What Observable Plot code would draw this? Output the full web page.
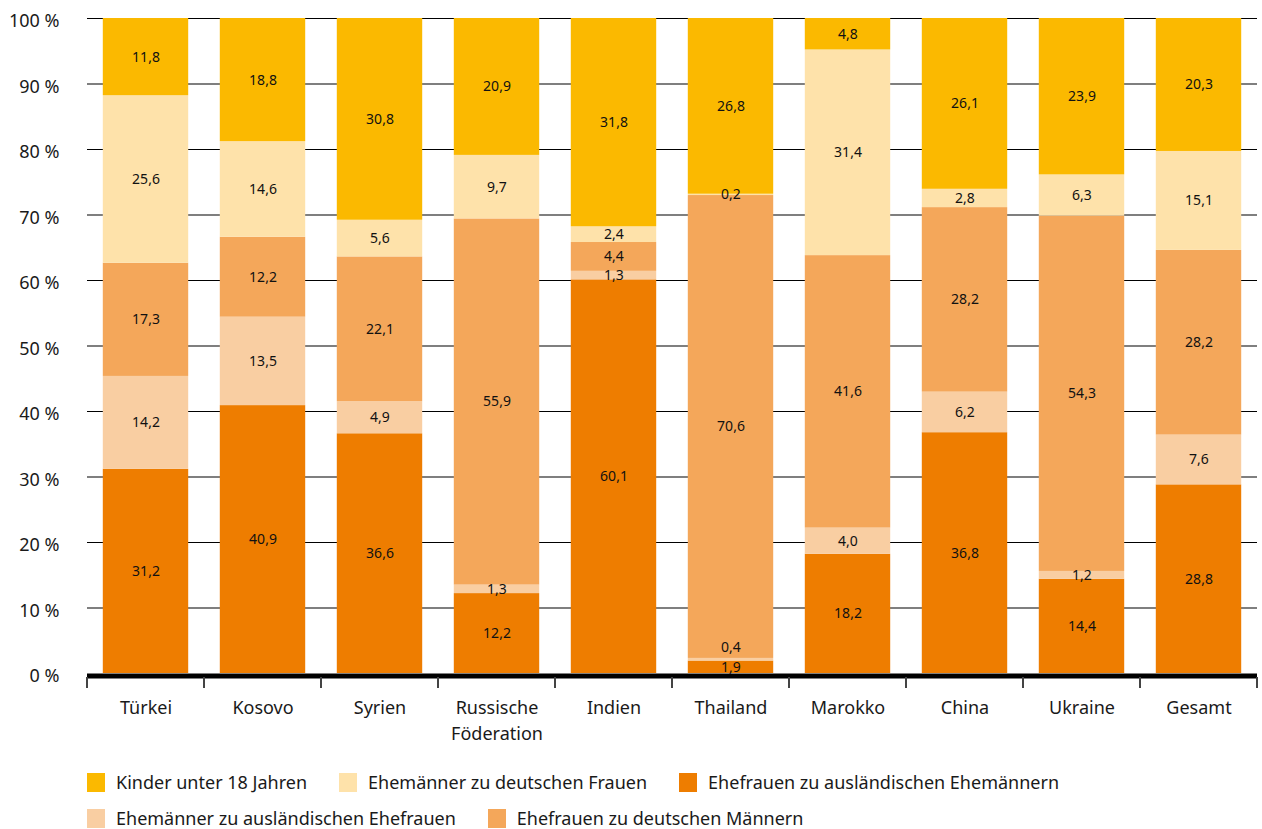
<!DOCTYPE html>
<html><head><meta charset="utf-8">
<script src="https://cdn.jsdelivr.net/npm/d3@7"></script>
<script src="https://cdn.jsdelivr.net/npm/@observablehq/plot@0.6"></script>
<style>
body{margin:0;background:#fff;font-family:"Noto Sans",sans-serif;color:#1a1a1a;overflow:hidden;}
#legend{position:relative;height:72px;margin-top:9px;}
.row{display:flex;align-items:center;height:36px;padding-left:87px;}
.item{display:flex;align-items:center;margin-right:32px;font-size:18px;line-height:20px;white-space:nowrap;}
.sw{width:18px;height:19px;margin-right:11px;flex:none;}
</style></head><body>
<div id="chart"></div>
<div id="legend"></div>
<script>
const categories = ["Türkei","Kosovo","Syrien","Russische\nFöderation","Indien","Thailand","Marokko","China","Ukraine","Gesamt"];
const seriesNames = [
  "Ehefrauen zu ausländischen Ehemännern",
  "Ehemänner zu ausländischen Ehefrauen",
  "Ehefrauen zu deutschen Männern",
  "Ehemänner zu deutschen Frauen",
  "Kinder unter 18 Jahren"
];
const seriesColors = ["#EE7D00","#F9CEA2","#F4A75A","#FEE2AA","#FBB900"];
const ehefrauenAusl  = [31.2,40.9,36.6,12.2,60.1,1.9,18.2,36.8,14.4,28.8];
const ehemaennerAusl = [14.2,13.5,4.9,1.3,1.3,0.4,4.0,6.2,1.2,7.6];
const ehefrauenDt    = [17.3,12.2,22.1,55.9,4.4,70.6,41.6,28.2,54.3,28.2];
const ehemaennerDt   = [25.6,14.6,5.6,9.7,2.4,0.2,31.4,2.8,6.3,15.1];
const kinder         = [11.8,18.8,30.8,20.9,31.8,26.8,4.8,26.1,23.9,20.3];
const yTickValues = [0,10,20,30,40,50,60,70,80,90,100];
const legendRows = [
  ["Kinder unter 18 Jahren","Ehemänner zu deutschen Frauen","Ehefrauen zu ausländischen Ehemännern"],
  ["Ehemänner zu ausländischen Ehefrauen","Ehefrauen zu deutschen Männern"]
];

const seriesValues = [ehefrauenAusl, ehemaennerAusl, ehefrauenDt, ehemaennerDt, kinder];
const data = [];
categories.forEach((c, i) => {
  let base = 0;
  seriesNames.forEach((s, j) => {
    const v = seriesValues[j][i];
    data.push({category: c, series: s, value: v, shift: v < 0.5 && base < 5});
    base += v;
  });
});
const fmt = v => v.toFixed(1).replace(".", ",");
const stackOpts = {x: "category", y: "value", z: "series", order: seriesNames, offset: "normalize"};

const plot = Plot.plot({
  width: 1262, height: 755,
  marginTop: 18, marginBottom: 82, marginLeft: 87, marginRight: 5,
  style: {fontFamily: '"Noto Sans", sans-serif', fontSize: "18px", color: "#1a1a1a", background: "#fff"},
  x: {domain: categories, paddingInner: 0.27, paddingOuter: 0.135, round: false, label: null},
  y: {domain: [0, 1], label: null},
  color: {domain: seriesNames, range: seriesColors},
  marks: [
    Plot.ruleY(yTickValues.filter(t => t > 0).map(t => t / 100), {stroke: "#000", strokeWidth: 1.2}),
    Plot.barY(data, Plot.stackY({...stackOpts, fill: "series"})),
    Plot.text(data, Plot.stackY({...stackOpts, text: d => d.shift ? "" : fmt(d.value), fontSize: 14, fill: "#111"})),
    Plot.text(data, Plot.stackY({...stackOpts, text: d => d.shift ? fmt(d.value) : "", fontSize: 14, fill: "#111", dy: -12})),
    Plot.ruleY([0], {stroke: "#000", strokeWidth: 5, dy: 2.5}),
    Plot.axisY({ticks: yTickValues.map(t => t / 100), tickSize: 0, tickPadding: 28, dy: 3,
      tickFormat: d => Math.round(d * 100) + " %", fontSize: 18}),
    Plot.axisX({tickSize: 0, tickPadding: 22, fontSize: 18, lineHeight: 1.45})
  ]
});
document.getElementById("chart").appendChild(plot);

// boundary ticks between categories
const sx = plot.scale("x");
const band = d3.scaleBand().domain(sx.domain).range(sx.range)
  .paddingInner(sx.paddingInner).paddingOuter(sx.paddingOuter).align(sx.align ?? 0.5);
const half = band.step() * band.paddingInner() / 2;
const bounds = categories.map(c => band(c) - half).concat([band(categories[categories.length - 1]) + band.bandwidth() + half]);
const y0 = plot.scale("y").apply(0);
d3.select(plot).append("g").selectAll("line").data(bounds).join("line")
  .attr("x1", d => d).attr("x2", d => d)
  .attr("y1", y0 + 4).attr("y2", y0 + 15)
  .attr("stroke", "#444").attr("stroke-width", 2);

const lg = d3.select("#legend");
legendRows.forEach(r => {
  const row = lg.append("div").attr("class", "row");
  r.forEach(name => {
    const it = row.append("div").attr("class", "item");
    it.append("div").attr("class", "sw").style("background", seriesColors[seriesNames.indexOf(name)]);
    it.append("span").text(name);
  });
});
</script>
</body></html>
